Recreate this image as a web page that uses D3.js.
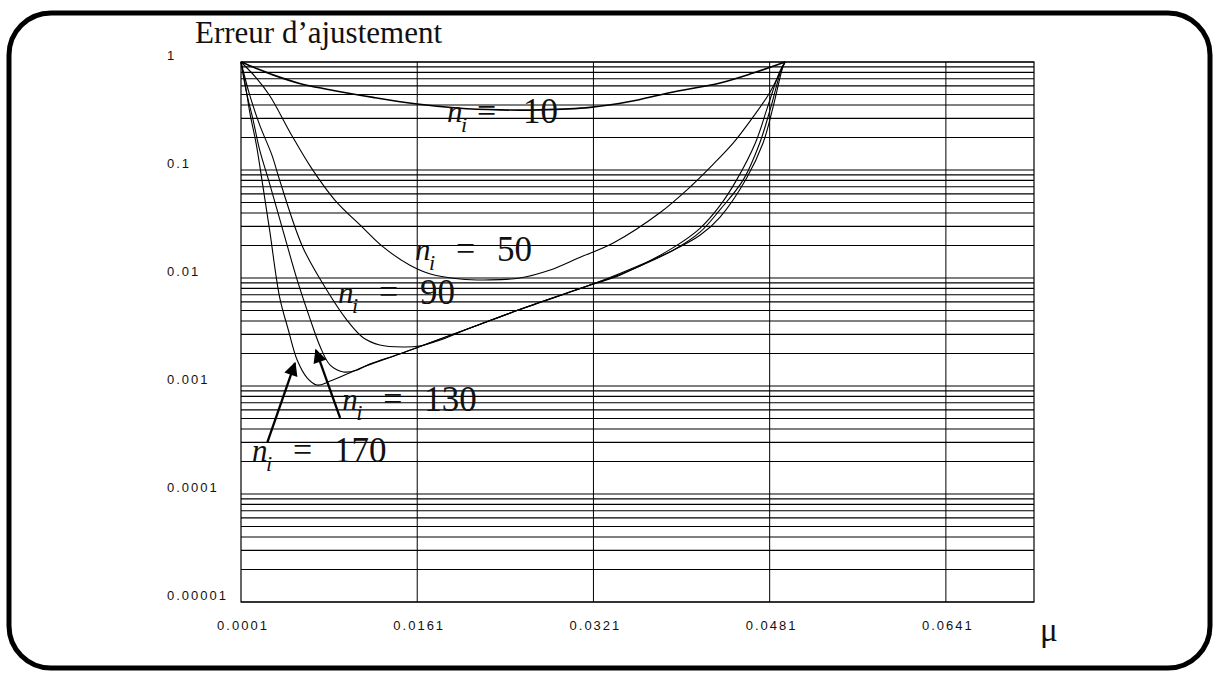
<!DOCTYPE html>
<html>
<head>
<meta charset="utf-8">
<script src="https://cdn.jsdelivr.net/npm/d3@7"></script>
<style>
  html, body { margin: 0; padding: 0; background: #fff; }
  svg { display: block; }
</style>
</head>
<body>
<svg id="chart" width="1218" height="674"></svg>
<script>
// Fit error versus step size mu, one curve per number of iterations n_i
const muN10  = [0.0001, 0.0014, 0.0030, 0.0055, 0.0079, 0.0121, 0.0159, 0.0197, 0.0236, 0.0272, 0.0318, 0.0354, 0.0390, 0.0436, 0.0466, 0.0495];
const errN10 = [1, 0.88, 0.76, 0.63, 0.56, 0.47, 0.41, 0.375, 0.36, 0.36, 0.38, 0.43, 0.52, 0.64, 0.79, 1];

const muN50  = [0.0001, 0.0015, 0.0027, 0.0047, 0.0065, 0.0086, 0.0112, 0.0130, 0.0154, 0.0173, 0.0200, 0.0227, 0.0254, 0.0281, 0.0309, 0.0339, 0.0381, 0.0409, 0.0429, 0.0448, 0.0466, 0.0481, 0.0495];
const errN50 = [1, 0.71, 0.49, 0.21, 0.104, 0.053, 0.029, 0.0194, 0.0132, 0.0109, 0.0098, 0.0096, 0.0100, 0.0118, 0.0156, 0.0211, 0.040, 0.070, 0.111, 0.178, 0.31, 0.52, 1];

const muN90  = [0.0001, 0.0009, 0.0018, 0.0029, 0.0036, 0.0057, 0.0079, 0.0097, 0.0112, 0.0127, 0.0148, 0.0163, 0.0182, 0.0209, 0.0254, 0.0318, 0.0345, 0.0393, 0.0418, 0.0436, 0.0451, 0.0468, 0.0479, 0.0490, 0.0495];
const errN90 = [1, 0.49, 0.26, 0.138, 0.081, 0.0194, 0.0077, 0.0041, 0.0028, 0.0024, 0.0023, 0.00235, 0.00267, 0.00344, 0.0051, 0.0086, 0.0106, 0.019, 0.029, 0.047, 0.081, 0.178, 0.38, 0.81, 1];

const muN130  = [0.0001, 0.00055, 0.0012, 0.0018, 0.0026, 0.0039, 0.0052, 0.0064, 0.0073, 0.0082, 0.0094, 0.0106, 0.0118, 0.0145, 0.0172, 0.0209, 0.0254, 0.0318, 0.0345, 0.0393, 0.0418, 0.0436, 0.0457, 0.0472, 0.0482, 0.0492, 0.0495];
const errN130 = [1, 0.55, 0.29, 0.153, 0.081, 0.0278, 0.0096, 0.0041, 0.0023, 0.00156, 0.00135, 0.0014, 0.0016, 0.00198, 0.0025, 0.00344, 0.0051, 0.0086, 0.0108, 0.018, 0.0267, 0.043, 0.081, 0.178, 0.38, 0.88, 1];

const muN170  = [0.0001, 0.0005, 0.0009, 0.0015, 0.0020, 0.0027, 0.0036, 0.0044, 0.0052, 0.0061, 0.0070, 0.0082, 0.0112, 0.0145, 0.0172, 0.0209, 0.0254, 0.0318, 0.0345, 0.0393, 0.0418, 0.0436, 0.0460, 0.0475, 0.0484, 0.0493, 0.0495];
const errN170 = [1, 0.61, 0.34, 0.17, 0.081, 0.0278, 0.0067, 0.0033, 0.00174, 0.00119, 0.00102, 0.00111, 0.0015, 0.00198, 0.0025, 0.00344, 0.0051, 0.0086, 0.0110, 0.018, 0.025, 0.0367, 0.084, 0.178, 0.38, 0.90, 1];

const seriesN = [10, 50, 90, 130, 170];
const seriesMu = [muN10, muN50, muN90, muN130, muN170];
const seriesErr = [errN10, errN50, errN90, errN130, errN170];

const xTickValues = [0.0001, 0.0161, 0.0321, 0.0481, 0.0641];
const xTickLabels = ["0.0001", "0.0161", "0.0321", "0.0481", "0.0641"];
const yTickValues = [1, 0.1, 0.01, 0.001, 0.0001, 0.00001];
const yTickLabels = ["1", "0.1", "0.01", "0.001", "0.0001", "0.00001"];

// Curve label anchors (mu, error) and arrow endpoints (from, to)
const labelMu  = [0.0188, 0.0159, 0.0089, 0.0093, 0.0011];
const labelErr = [0.278, 0.0147, 0.00587, 0.0006, 0.000202];
const arrowFromMu  = [0.0025, 0.0091];
const arrowFromErr = [0.000303, 0.000506];
const arrowToMu    = [0.0050, 0.0069];
const arrowToErr   = [0.00163, 0.00215];

const svg = d3.select("#chart");
const plot = { left: 241, right: 1034, top: 62, bottom: 602 };

const x = d3.scaleLinear().domain([0.0001, 0.0721]).range([plot.left, plot.right]);
const y = d3.scaleLog().domain([0.00001, 1]).range([plot.bottom, plot.top]);

// Outer rounded frame
svg.append("rect")
  .attr("x", 9).attr("y", 13).attr("width", 1201).attr("height", 655)
  .attr("rx", 42).attr("ry", 42)
  .attr("fill", "none").attr("stroke", "#000").attr("stroke-width", 5);

// Title
svg.append("text")
  .attr("x", 195).attr("y", 43)
  .attr("font-family", "'Liberation Serif', 'Times New Roman', serif")
  .attr("font-size", 31)
  .attr("fill", "#111")
  .text("Erreur d’ajustement");

// Horizontal log grid (every minor tick of the log scale)
const grid = svg.append("g");
grid.selectAll("line.h")
  .data(y.ticks())
  .join("line")
  .attr("class", "h")
  .attr("x1", plot.left).attr("x2", plot.right)
  .attr("y1", d => y(d)).attr("y2", d => y(d))
  .attr("stroke", "#000").attr("stroke-width", 1.2);

// Vertical grid lines at the labelled mu ticks
grid.selectAll("line.v")
  .data(xTickValues.slice(1))
  .join("line")
  .attr("class", "v")
  .attr("x1", d => x(d)).attr("x2", d => x(d))
  .attr("y1", plot.top).attr("y2", plot.bottom)
  .attr("stroke", "#000").attr("stroke-width", 1);

// Plot frame
svg.append("rect")
  .attr("x", plot.left).attr("y", plot.top)
  .attr("width", plot.right - plot.left).attr("height", plot.bottom - plot.top)
  .attr("fill", "none").attr("stroke", "#000").attr("stroke-width", 1.2);

// Y tick labels
const tickFont = "'Liberation Sans', Arial, sans-serif";
svg.append("g").selectAll("text")
  .data(yTickValues)
  .join("text")
  .attr("x", 167)
  .attr("y", d => y(d) - 5)
  .attr("dominant-baseline", "middle")
  .attr("font-family", tickFont)
  .attr("font-size", 13)
  .attr("letter-spacing", 2)
  .attr("fill", "#111")
  .text((d, i) => yTickLabels[i]);

// X tick labels
svg.append("g").selectAll("text")
  .data(xTickValues)
  .join("text")
  .attr("x", d => x(d) + 2)
  .attr("y", 627)
  .attr("text-anchor", "middle")
  .attr("dominant-baseline", "middle")
  .attr("font-family", tickFont)
  .attr("font-size", 13)
  .attr("letter-spacing", 2)
  .attr("fill", "#111")
  .text((d, i) => xTickLabels[i]);

// Axis name
svg.append("text")
  .attr("x", 1040).attr("y", 641)
  .attr("font-family", "'Liberation Serif', 'Times New Roman', serif")
  .attr("font-size", 33)
  .attr("fill", "#111")
  .text("μ");

// Curves
const line = d3.line()
  .x(d => x(d[0]))
  .y(d => y(d[1]))
  .curve(d3.curveCatmullRom.alpha(0.5));

svg.append("g").selectAll("path")
  .data(seriesN)
  .join("path")
  .attr("d", (n, i) => line(seriesMu[i].map((m, j) => [m, seriesErr[i][j]])))
  .attr("fill", "none")
  .attr("stroke", "#000")
  .attr("stroke-width", (n, i) => i === 0 ? 1.6 : 1.1);

// Curve labels: italic n with subscript i, then "= value"
const serif = "'Liberation Serif', 'Times New Roman', serif";
const labels = svg.append("g");
seriesN.forEach((n, i) => {
  const lx = x(labelMu[i]);
  const ly = y(labelErr[i]);
  const compact = i === 0;
  const g = labels.append("g").attr("transform", `translate(${lx},${ly})`);
  g.append("text")
    .attr("x", 0).attr("y", 0)
    .attr("font-family", serif).attr("font-style", "italic")
    .attr("font-size", 31).attr("fill", "#111")
    .text("n");
  g.append("text")
    .attr("x", 14).attr("y", 10)
    .attr("font-family", serif).attr("font-style", "italic")
    .attr("font-size", 22).attr("fill", "#111")
    .text("i");
  g.append("text")
    .attr("x", compact ? 30 : 41).attr("y", 0)
    .attr("font-family", serif)
    .attr("font-size", 34).attr("fill", "#111")
    .text("=");
  g.append("text")
    .attr("x", compact ? 76 : 82).attr("y", 1)
    .attr("font-family", serif)
    .attr("font-size", 35).attr("fill", "#111")
    .text(n);
});

// Arrows pointing at the n_i = 170 and n_i = 130 minima
svg.append("defs").append("marker")
  .attr("id", "head")
  .attr("viewBox", "0 0 10 10")
  .attr("refX", 9).attr("refY", 5)
  .attr("markerWidth", 8).attr("markerHeight", 6)
  .attr("markerUnits", "strokeWidth")
  .attr("orient", "auto")
  .append("path")
  .attr("d", "M0,0 L10,5 L0,10 Z")
  .attr("fill", "#000");

svg.append("g").selectAll("line")
  .data(arrowFromMu)
  .join("line")
  .attr("x1", (d, i) => x(arrowFromMu[i]))
  .attr("y1", (d, i) => y(arrowFromErr[i]))
  .attr("x2", (d, i) => x(arrowToMu[i]))
  .attr("y2", (d, i) => y(arrowToErr[i]))
  .attr("stroke", "#000")
  .attr("stroke-width", 2.3)
  .attr("marker-end", "url(#head)");
</script>
</body>
</html>
